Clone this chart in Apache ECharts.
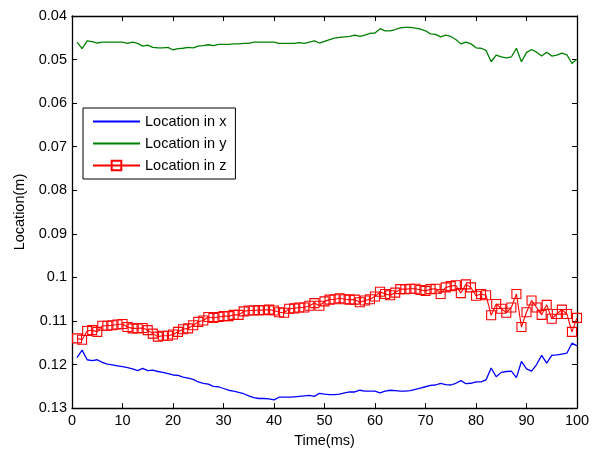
<!DOCTYPE html>
<html>
<head>
<meta charset="utf-8">
<script src="https://cdn.jsdelivr.net/npm/echarts@6/dist/echarts.min.js"></script>
<style>
html,body{margin:0;padding:0;background:#fff;}
#chart{width:595px;height:453px;}
</style>
</head>
<body>
<div id="chart"></div>
<script>
var time = [1,2,3,4,5,6,7,8,9,10,11,12,13,14,15,16,17,18,19,20,21,22,23,24,25,26,27,28,29,30,31,32,33,34,35,36,37,38,39,40,41,42,43,44,45,46,47,48,49,50,51,52,53,54,55,56,57,58,59,60,61,62,63,64,65,66,67,68,69,70,71,72,73,74,75,76,77,78,79,80,81,82,83,84,85,86,87,88,89,90,91,92,93,94,95,96,97,98,99,100];

var locX = [0.1184,0.1167,0.1189,0.1191,0.1189,0.1195,0.1199,0.1201,0.1203,0.1205,
0.1207,0.1210,0.1214,0.1209,0.1214,0.1213,0.1216,0.1218,0.1221,0.1224,
0.1225,0.1229,0.1231,0.1234,0.1240,0.1243,0.1245,0.1250,0.1251,0.1255,
0.1259,0.1261,0.1264,0.1267,0.1272,0.1276,0.1278,0.1278,0.1279,0.1281,
0.1275,0.1275,0.1275,0.1274,0.1273,0.1272,0.1271,0.1273,0.1266,0.1268,
0.1269,0.1269,0.1268,0.1265,0.1263,0.1263,0.1259,0.1261,0.1261,0.1261,
0.1265,0.1261,0.1259,0.1260,0.1261,0.1261,0.1260,0.1257,0.1254,0.1251,
0.1248,0.1247,0.1243,0.1246,0.1247,0.1243,0.1237,0.1244,0.1243,0.1240,
0.1240,0.1235,0.1208,0.1228,0.1218,0.1216,0.1215,0.1230,0.1193,0.1210,
0.1215,0.1200,0.1179,0.1197,0.1179,0.1178,0.1176,0.1174,0.1151,0.1157];

var locY = [0.0460,0.0475,0.0457,0.0459,0.0462,0.0460,0.0460,0.0460,0.0460,0.0460,
0.0463,0.0460,0.0463,0.0469,0.0467,0.0472,0.0473,0.0473,0.0472,0.0478,
0.0475,0.0474,0.0472,0.0473,0.0469,0.0468,0.0466,0.0468,0.0465,0.0465,
0.0465,0.0464,0.0464,0.0463,0.0463,0.0460,0.0460,0.0460,0.0460,0.0460,
0.0463,0.0463,0.0463,0.0463,0.0461,0.0463,0.0460,0.0457,0.0462,0.0458,
0.0454,0.0451,0.0449,0.0448,0.0447,0.0444,0.0447,0.0444,0.0440,0.0439,
0.0429,0.0434,0.0434,0.0431,0.0427,0.0426,0.0426,0.0428,0.0430,0.0434,
0.0441,0.0442,0.0448,0.0444,0.0447,0.0454,0.0464,0.0460,0.0464,0.0473,
0.0474,0.0479,0.0505,0.0490,0.0494,0.0496,0.0494,0.0474,0.0505,0.0484,
0.0477,0.0483,0.0492,0.0483,0.0492,0.0490,0.0485,0.0489,0.0509,0.0499];

var locZ = [0.1140,0.1143,0.1123,0.1121,0.1125,0.1111,0.1111,0.1110,0.1108,0.1107,
0.1114,0.1117,0.1117,0.1116,0.1121,0.1129,0.1136,0.1134,0.1134,0.1131,
0.1125,0.1119,0.1117,0.1110,0.1102,0.1099,0.1091,0.1093,0.1091,0.1089,
0.1089,0.1086,0.1086,0.1078,0.1076,0.1076,0.1075,0.1075,0.1074,0.1076,
0.1080,0.1081,0.1072,0.1071,0.1069,0.1069,0.1065,0.1059,0.1065,0.1055,
0.1051,0.1050,0.1048,0.1050,0.1051,0.1051,0.1057,0.1053,0.1050,0.1044,
0.1033,0.1038,0.1041,0.1035,0.1027,0.1027,0.1026,0.1026,0.1029,0.1031,
0.1027,0.1026,0.1038,0.1023,0.1020,0.1018,0.1036,0.1016,0.1023,0.1042,
0.1038,0.1041,0.1087,0.1061,0.1072,0.1081,0.1069,0.1038,0.1114,0.1080,
0.1053,0.1069,0.1086,0.1063,0.1095,0.1084,0.1074,0.1084,0.1125,0.1093];

var seriesNames = ['Location in x','Location in y','Location in z'];
var xTitle = 'Time(ms)';
var yTitle = 'Location(m)';

function pairs(arr){ return time.map(function(t,i){ return [t, arr[i]]; }); }

var FONT = 'Liberation Sans, Arial, sans-serif';
var FS = 14.5;
var axisLineStyle = {color:'#000', width:1.3};

var chart = echarts.init(document.getElementById('chart'), null, {renderer:'canvas'});
chart.setOption({
  animation:false,
  backgroundColor:'#fff',
  textStyle:{fontFamily:FONT},
  grid:{left:72,right:18,top:16,bottom:39,containLabel:false},
  legend:{
    orient:'vertical', left:83, top:108,
    data:[
      {name:seriesNames[0], itemStyle:{opacity:0}},
      {name:seriesNames[1], itemStyle:{opacity:0}},
      {name:seriesNames[2]}
    ],
    backgroundColor:'#fff', borderColor:'#000', borderWidth:1,
    padding:[6,9,6,9], itemGap:7, itemWidth:47, itemHeight:12,
    textStyle:{fontFamily:FONT, fontSize:FS, color:'#000'},
    selectedMode:false
  },
  xAxis:[{
    type:'value', min:0, max:100, interval:10, position:'bottom',
    name:xTitle, nameLocation:'middle', nameGap:22,
    nameTextStyle:{fontFamily:FONT, fontSize:FS, color:'#000'},
    axisLine:{show:true, onZero:false, lineStyle:axisLineStyle},
    axisTick:{show:true, inside:true, length:5, lineStyle:{color:'#000'}},
    axisLabel:{fontFamily:FONT, fontSize:FS, color:'#000', margin:5},
    splitLine:{show:false}
  },{
    type:'value', min:0, max:100, interval:10, position:'top',
    axisLine:{show:true, onZero:false, lineStyle:axisLineStyle},
    axisTick:{show:true, inside:true, length:5, lineStyle:{color:'#000'}},
    axisLabel:{show:false}, splitLine:{show:false}
  }],
  yAxis:[{
    type:'value', min:0.04, max:0.13, interval:0.01, inverse:true, position:'left',
    name:yTitle, nameLocation:'middle', nameGap:44, nameRotate:90,
    nameTextStyle:{fontFamily:FONT, fontSize:FS, color:'#000'},
    axisLine:{show:true, onZero:false, lineStyle:axisLineStyle},
    axisTick:{show:true, inside:true, length:5, lineStyle:{color:'#000'}},
    axisLabel:{fontFamily:FONT, fontSize:FS, color:'#000', margin:5,
      formatter:function(v){ return String(+(+v).toFixed(2)); }},
    splitLine:{show:false}
  },{
    type:'value', min:0.04, max:0.13, interval:0.01, inverse:true, position:'right',
    axisLine:{show:true, onZero:false, lineStyle:axisLineStyle},
    axisTick:{show:true, inside:true, length:5, lineStyle:{color:'#000'}},
    axisLabel:{show:false}, splitLine:{show:false}
  }],
  series:[{
    name:seriesNames[0], type:'line', data:pairs(locX), symbol:'none',
    lineStyle:{color:'#0000ff', width:1.3}, itemStyle:{color:'#0000ff'}
  },{
    name:seriesNames[1], type:'line', data:pairs(locY), symbol:'none',
    lineStyle:{color:'#008000', width:1.3}, itemStyle:{color:'#008000'}
  },{
    name:seriesNames[2], type:'line', data:pairs(locZ), symbol:'rect', symbolSize:9,
    showAllSymbol:true,
    lineStyle:{color:'#ff0000', width:1.1},
    itemStyle:{color:'rgba(0,0,0,0)', borderColor:'#ff0000', borderWidth:1.1}
  }]
});
</script>
</body>
</html>
